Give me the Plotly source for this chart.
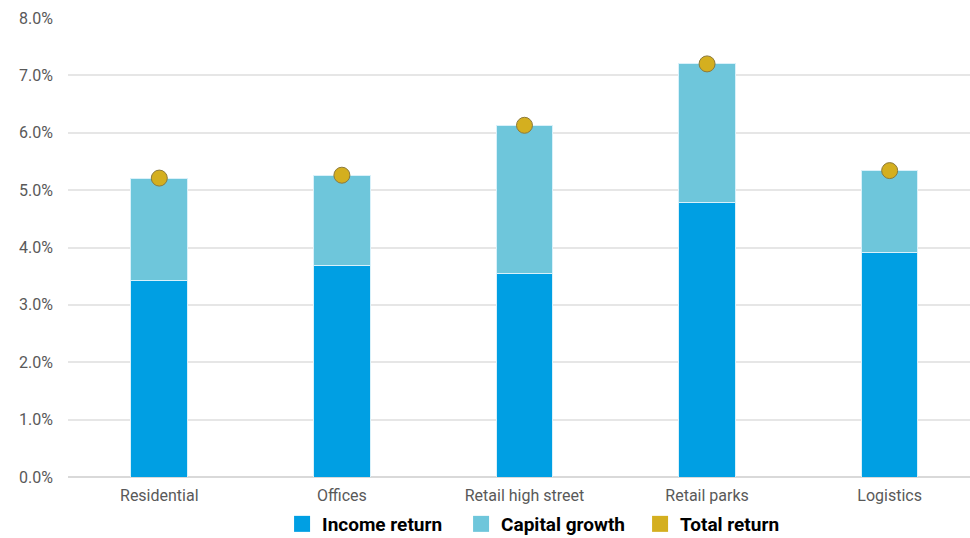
import plotly.graph_objects as go

sectors = ["Residential", "Offices", "Retail high street", "Retail parks", "Logistics"]
income_return = [3.42, 3.68, 3.54, 4.79, 3.91]
capital_growth = [1.79, 1.58, 2.59, 2.41, 1.43]
total_return = [5.21, 5.26, 6.13, 7.20, 5.34]
y_ticks = [0, 1, 2, 3, 4, 5, 6, 7, 8]

C_INCOME = "#009fe3"
C_CAPITAL = "#6ec6db"
C_TOTAL = "#d4af1f"

fig = go.Figure()
fig.add_trace(go.Bar(
    x=sectors, y=income_return, name="Income return", showlegend=False,
    marker=dict(color=C_INCOME, line=dict(color="#d9f1fa", width=1)),
))
fig.add_trace(go.Bar(
    x=sectors, y=capital_growth, name="Capital growth", showlegend=False,
    marker=dict(color=C_CAPITAL, line=dict(color="#d9f1fa", width=1)),
))
fig.add_trace(go.Scatter(
    x=sectors, y=total_return, name="Total return", mode="markers",
    marker=dict(color=C_TOTAL, size=16, line=dict(color="#8c7a3c", width=1)),
    showlegend=False,
))
# square legend swatches
for name, col in [("Income return", C_INCOME), ("Capital growth", C_CAPITAL),
                  ("Total return", C_TOTAL)]:
    fig.add_trace(go.Scatter(
        x=[None], y=[None], name=name, mode="markers",
        marker=dict(color=col, symbol="square", size=18),
    ))

fig.update_layout(
    width=970, height=538,
    margin=dict(l=68, r=0, t=18, b=61, autoexpand=False),
    barmode="stack",
    bargap=0.69,
    plot_bgcolor="white",
    paper_bgcolor="white",
    font=dict(family="Roboto", size=16, color="#595959"),
    showlegend=True,
    legend=dict(
        orientation="h", x=0.535, xanchor="center",
        yref="container", y=0.026, yanchor="middle",
        font=dict(family="Roboto", size=19, color="#000000", weight="bold"),
        itemsizing="trace", traceorder="normal",
        entrywidth=134, entrywidthmode="pixels",
    ),
    xaxis=dict(
        range=[-0.5, 4.44], showgrid=False, zeroline=False, showline=False,
        ticks="", ticklabelstandoff=7, tickfont=dict(size=16, color="#595959"),
    ),
    yaxis=dict(
        range=[0, 8], tickvals=y_ticks,
        ticktext=[f"{v:.1f}%" for v in y_ticks],
        showgrid=True, gridcolor="#e6e6e6", gridwidth=1.5,
        zeroline=True, zerolinecolor="#d9d9d9", zerolinewidth=1.5,
        showline=False, ticks="", ticklabelstandoff=14,
        tickfont=dict(size=16, color="#595959"),
    ),
)

fig.write_html("out.html")
